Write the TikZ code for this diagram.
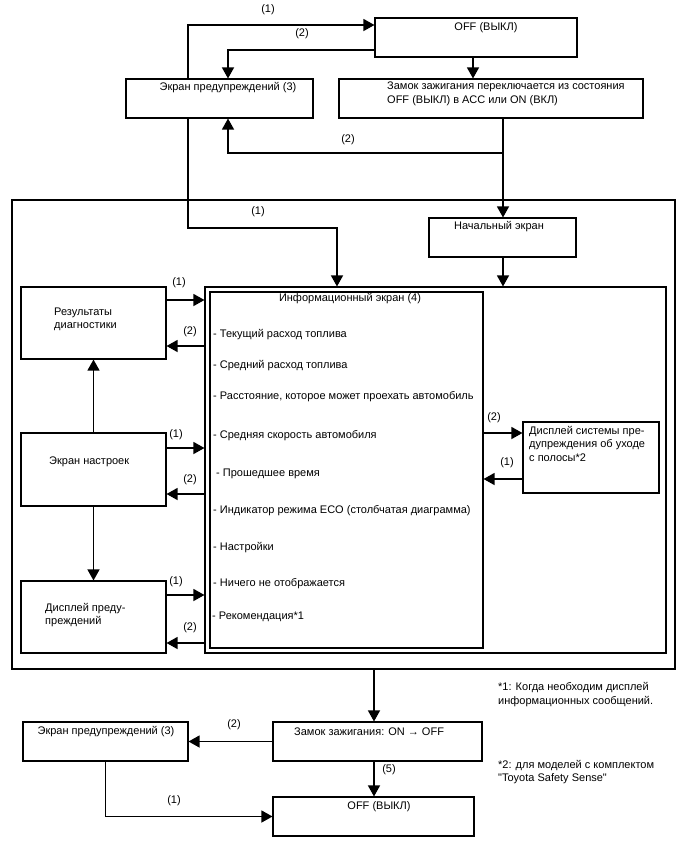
\documentclass[tikz,border=0pt]{standalone}
\usepackage{fontspec}
\setmainfont{Liberation Sans}[Ligatures=TeXOff]
\usetikzlibrary{arrows.meta,fit}
\begin{document}
\begin{tikzpicture}[x=1pt,y=-1pt,
  box/.style={draw, line width=1.1pt, inner sep=0pt},
  frame/.style={draw, line width=1.1pt, inner sep=0pt},
  arr/.style={line width=1.3pt, -{Triangle[length=11pt,width=12pt]}},
  lbl/.style={font=\fontsize{11}{13.5}\selectfont, inner sep=0pt},
  txt/.style={font=\fontsize{11}{13.5}\selectfont, inner sep=0pt, align=left},
]
\useasboundingbox (0,0) rectangle (688,852);

% boxes
\node[box, fit={(375,18) (577,57)}] (offT) {};
\node[box, fit={(126,79) (313,118)}] (warnT) {};
\node[box, fit={(339,79) (643,118)}] (zamT) {};
\node[frame, fit={(12,200) (675,669)}] (frameO) {};
\node[box, fit={(429,218) (576,257)}] (start) {};
\node[box, fit={(205,287) (666,653)}] (cont) {};
\node[box, fit={(210,292) (483,648)}] (info) {};
\node[box, fit={(21,287) (166,359)}] (res) {};
\node[box, fit={(21,433) (166,506)}] (set) {};
\node[box, fit={(21,581) (166,653)}] (dwarn) {};
\node[box, fit={(523,422) (659,493)}] (lane) {};
\node[box, fit={(273,722) (482,761)}] (zamB) {};
\node[box, fit={(23,722) (188,761)}] (warnB) {};
\node[box, fit={(273,797) (474,836)}] (offB) {};

% texts
\node[txt] (tOffT) at (486,28) {OFF (ВЫКЛ)};
\node[txt] (tWarnT) at (228,88) {Экран предупреждений (3)};
\node[txt, anchor=west] (tZamT) at (387,94) {Замок зажигания переключается из состояния\\OFF (ВЫКЛ) в АСС или ON (ВКЛ)};
\node[txt] (tStart) at (499,227) {Начальный экран};
\node[txt] (tInfo) at (350,299) {Информационный экран (4)};
\node[txt, anchor=west] (i1) at (213,335) {- Текущий расход топлива};
\node[txt, anchor=west] (i2) at (213,366) {- Средний расход топлива};
\node[txt, anchor=west] (i3) at (213,397) {- Расстояние, которое может проехать автомобиль};
\node[txt, anchor=west] (i4) at (213,436) {- Средняя скорость автомобиля};
\node[txt, anchor=west] (i5) at (216,474) {- Прошедшее время};
\node[txt, anchor=west] (i6) at (213,511) {- Индикатор режима ECO (столбчатая диаграмма)};
\node[txt, anchor=west] (i7) at (213,548) {- Настройки};
\node[txt, anchor=west] (i8) at (213,584) {- Ничего не отображается};
\node[txt, anchor=west] (i9) at (212,617) {- Рекомендация*1};
\node[txt, anchor=west] (tRes) at (54,319.5) {Результаты\\диагностики};
\node[txt, anchor=west] (tSet) at (49,462) {Экран настроек};
\node[txt, anchor=west] (tDwarn) at (45,615) {Дисплей преду-\\преждений};
\node[txt, anchor=west] (tLane) at (529,443.5) {Дисплей системы пре-\\дупреждения об уходе\\с полосы*2};
\node[txt, anchor=west] (tZamB) at (294,732) {Замок зажигания: ON → OFF};
\node[txt] (tWarnB) at (106,732) {Экран предупреждений (3)};
\node[txt] (tOffB) at (379,807) {OFF (ВЫКЛ)};
\node[txt, anchor=west] (n1) at (498,694.5) {*1: Когда необходим дисплей\\информационных сообщений.};
\node[txt, anchor=west] (n2) at (498,772) {*2: для моделей с комплектом\\"Toyota Safety Sense"};

% helper coordinates
\coordinate (xL) at (188,0);
\coordinate (x228) at (228,0);
\coordinate (x473) at (473,0);
\coordinate (x503) at (503,0);
\coordinate (x374) at (374,0);
\coordinate (yTop) at (0,25);
\coordinate (y50) at (0,50);
\coordinate (b1) at (503,153);
\coordinate (c228) at (337,228);
\coordinate (x337) at (337,0);

% top connectors
\draw[arr] (warnT.north -| xL) |- (offT.west |- yTop);
\draw[arr] (offT.west |- y50) -| (warnT.north -| x228);
\draw[arr] (offT.south -| x473) -- (zamT.north -| x473);
\draw[arr] (zamT.south -| x503) -- (start.north -| x503);
\draw[arr] (b1) -| (warnT.south -| x228);
\draw[arr] (warnT.south -| xL) |- (c228) -- (cont.north -| x337);
\draw[arr] (start.south -| x503) -- (cont.north -| x503);

% left side
\coordinate (y300) at (0,300);
\coordinate (y346) at (0,346);
\coordinate (y448) at (0,448);
\coordinate (y494) at (0,494);
\coordinate (y595) at (0,595);
\coordinate (y643) at (0,643);
\draw[arr] (res.east |- y300) -- (cont.west |- y300);
\draw[arr] (cont.west |- y346) -- (res.east |- y346);
\draw[arr] (set.east |- y448) -- (cont.west |- y448);
\draw[arr] (cont.west |- y494) -- (set.east |- y494);
\draw[arr] (dwarn.east |- y595) -- (cont.west |- y595);
\draw[arr] (cont.west |- y643) -- (dwarn.east |- y643);
\draw[arr] (set.north) -- (res.south);
\draw[arr] (set.south) -- (dwarn.north);

% right side
\coordinate (y433) at (0,433);
\coordinate (y479) at (0,479);
\draw[arr] (info.east |- y433) -- (lane.west |- y433);
\draw[arr] (lane.west |- y479) -- (info.east |- y479);

% bottom
\draw[arr] (frameO.south -| x374) -- (zamB.north -| x374);
\draw[arr] (zamB.west) -- (warnB.east);
\draw[arr] (zamB.south -| x374) -- (offB.north -| x374);
\draw[arr] (warnB.south) |- (offB.west);

% labels
\node[lbl] (l1) at (268,10) {(1)};
\node[lbl] (l2) at (302,34) {(2)};
\node[lbl] (l3) at (348,140) {(2)};
\node[lbl] (l4) at (258,212) {(1)};
\node[lbl] (l5) at (179,283) {(1)};
\node[lbl] (l6) at (190,332) {(2)};
\node[lbl] (l7) at (176,435) {(1)};
\node[lbl] (l8) at (190,480) {(2)};
\node[lbl] (l9) at (176,582) {(1)};
\node[lbl] (l10) at (190,628) {(2)};
\node[lbl] (l11) at (494,418) {(2)};
\node[lbl] (l12) at (507,463) {(1)};
\node[lbl] (l13) at (234,725) {(2)};
\node[lbl] (l14) at (389,770) {(5)};
\node[lbl] (l15) at (174,801) {(1)};
\end{tikzpicture}
\end{document}
